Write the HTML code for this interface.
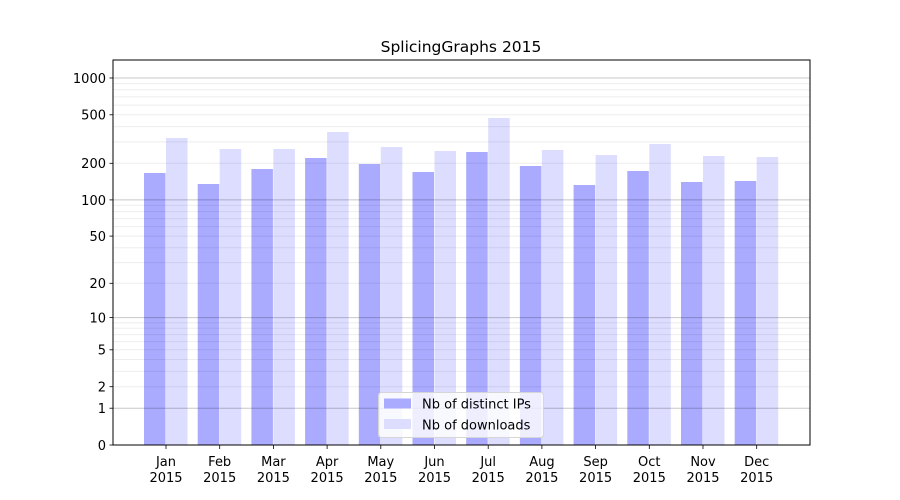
<!DOCTYPE html>
<html><head><meta charset="utf-8"><style>body{margin:0;background:#fff}svg{display:block}text{font-family:"DejaVu Sans","Liberation Sans",sans-serif;font-size:13px;fill:#000}</style></head><body>
<svg width="900" height="500" xmlns="http://www.w3.org/2000/svg">
<rect width="900" height="500" fill="#fff"/>
<g fill="#aaaaff">
<rect x="144" y="173" width="21.5" height="272"/><rect x="197.7" y="184" width="21.5" height="261"/><rect x="251.4" y="169" width="21.5" height="276"/><rect x="305.1" y="158" width="21.5" height="287"/><rect x="358.8" y="164" width="21.5" height="281"/><rect x="412.5" y="172" width="21.5" height="273"/><rect x="466.2" y="152" width="21.5" height="293"/><rect x="519.9" y="166" width="21.5" height="279"/><rect x="573.6" y="185" width="21.5" height="260"/><rect x="627.3" y="171" width="21.5" height="274"/><rect x="681" y="182" width="21.5" height="263"/><rect x="734.7" y="181" width="21.5" height="264"/>
</g>
<g fill="#ddddff">
<rect x="166" y="138" width="21.5" height="307"/><rect x="219.7" y="149" width="21.5" height="296"/><rect x="273.4" y="149" width="21.5" height="296"/><rect x="327.1" y="132" width="21.5" height="313"/><rect x="380.8" y="147" width="21.5" height="298"/><rect x="434.5" y="151" width="21.5" height="294"/><rect x="488.2" y="118" width="21.5" height="327"/><rect x="541.9" y="150" width="21.5" height="295"/><rect x="595.6" y="155" width="21.5" height="290"/><rect x="649.3" y="144" width="21.5" height="301"/><rect x="703" y="156" width="21.5" height="289"/><rect x="756.7" y="157" width="21.5" height="288"/>
</g>
<g stroke="#000" stroke-opacity="0.07" stroke-width="1">
<line x1="113" x2="810" y1="386.7" y2="386.7"/><line x1="113" x2="810" y1="371.4" y2="371.4"/><line x1="113" x2="810" y1="359.5" y2="359.5"/><line x1="113" x2="810" y1="349.8" y2="349.8"/><line x1="113" x2="810" y1="341.6" y2="341.6"/><line x1="113" x2="810" y1="334.6" y2="334.6"/><line x1="113" x2="810" y1="328.3" y2="328.3"/><line x1="113" x2="810" y1="322.7" y2="322.7"/>
<line x1="113" x2="810" y1="283.3" y2="283.3"/><line x1="113" x2="810" y1="262.6" y2="262.6"/><line x1="113" x2="810" y1="247.7" y2="247.7"/><line x1="113" x2="810" y1="236.1" y2="236.1"/><line x1="113" x2="810" y1="226.6" y2="226.6"/><line x1="113" x2="810" y1="218.6" y2="218.6"/><line x1="113" x2="810" y1="211.6" y2="211.6"/><line x1="113" x2="810" y1="205.4" y2="205.4"/>
<line x1="113" x2="810" y1="163.3" y2="163.3"/><line x1="113" x2="810" y1="141.9" y2="141.9"/><line x1="113" x2="810" y1="126.6" y2="126.6"/><line x1="113" x2="810" y1="114.8" y2="114.8"/><line x1="113" x2="810" y1="105.1" y2="105.1"/><line x1="113" x2="810" y1="96.9" y2="96.9"/><line x1="113" x2="810" y1="89.8" y2="89.8"/><line x1="113" x2="810" y1="83.6" y2="83.6"/>
</g>
<g stroke="#000" stroke-opacity="0.22" stroke-width="1">
<line x1="113" x2="810" y1="408.2" y2="408.2"/><line x1="113" x2="810" y1="317.6" y2="317.6"/><line x1="113" x2="810" y1="199.9" y2="199.9"/><line x1="113" x2="810" y1="78" y2="78"/>
</g>
<rect x="113" y="60" width="697" height="385" fill="none" stroke="#000" stroke-width="1"/>
<g stroke="#000" stroke-width="0.8">
<line x1="109.5" x2="113" y1="445" y2="445"/><line x1="109.5" x2="113" y1="408.2" y2="408.2"/><line x1="109.5" x2="113" y1="386.7" y2="386.7"/><line x1="109.5" x2="113" y1="349.8" y2="349.8"/><line x1="109.5" x2="113" y1="317.6" y2="317.6"/><line x1="109.5" x2="113" y1="283.3" y2="283.3"/><line x1="109.5" x2="113" y1="236.1" y2="236.1"/><line x1="109.5" x2="113" y1="199.9" y2="199.9"/><line x1="109.5" x2="113" y1="163.3" y2="163.3"/><line x1="109.5" x2="113" y1="114.8" y2="114.8"/><line x1="109.5" x2="113" y1="78" y2="78"/>
<line x1="166" x2="166" y1="445" y2="449"/><line x1="219.7" x2="219.7" y1="445" y2="449"/><line x1="273.4" x2="273.4" y1="445" y2="449"/><line x1="327.1" x2="327.1" y1="445" y2="449"/><line x1="380.8" x2="380.8" y1="445" y2="449"/><line x1="434.5" x2="434.5" y1="445" y2="449"/><line x1="488.2" x2="488.2" y1="445" y2="449"/><line x1="541.9" x2="541.9" y1="445" y2="449"/><line x1="595.6" x2="595.6" y1="445" y2="449"/><line x1="649.3" x2="649.3" y1="445" y2="449"/><line x1="703" x2="703" y1="445" y2="449"/><line x1="756.7" x2="756.7" y1="445" y2="449"/>
</g>
<g text-anchor="end">
<text x="106" y="450">0</text><text x="106" y="413">1</text><text x="106" y="391.5">2</text><text x="106" y="354.5">5</text><text x="106" y="322.5">10</text><text x="106" y="288">20</text><text x="106" y="241">50</text><text x="106" y="205">100</text><text x="106" y="168">200</text><text x="106" y="119.5">500</text><text x="106" y="83">1000</text>
</g>
<g text-anchor="middle">
<text x="166" y="466">Jan</text><text x="219.7" y="466">Feb</text><text x="273.4" y="466">Mar</text><text x="327.1" y="466">Apr</text><text x="380.8" y="466">May</text><text x="434.5" y="466">Jun</text><text x="488.2" y="466">Jul</text><text x="541.9" y="466">Aug</text><text x="595.6" y="466">Sep</text><text x="649.3" y="466">Oct</text><text x="703" y="466">Nov</text><text x="756.7" y="466">Dec</text>
<text x="166" y="482">2015</text><text x="219.7" y="482">2015</text><text x="273.4" y="482">2015</text><text x="327.1" y="482">2015</text><text x="380.8" y="482">2015</text><text x="434.5" y="482">2015</text><text x="488.2" y="482">2015</text><text x="541.9" y="482">2015</text><text x="595.6" y="482">2015</text><text x="649.3" y="482">2015</text><text x="703" y="482">2015</text><text x="756.7" y="482">2015</text>
<text x="461" y="52" style="font-size:15.5px">SplicingGraphs 2015</text>
</g>
<rect x="378.5" y="392.5" width="165" height="45" rx="3" fill="#fff" fill-opacity="0.8" stroke="#d6d6d6"/>
<rect x="384" y="398.5" width="27" height="10" fill="#aaaaff"/>
<rect x="384" y="419" width="27" height="10" fill="#ddddff"/>
<text x="422" y="408.5">Nb of distinct IPs</text>
<text x="422" y="429.5">Nb of downloads</text>
</svg>
</body></html>
